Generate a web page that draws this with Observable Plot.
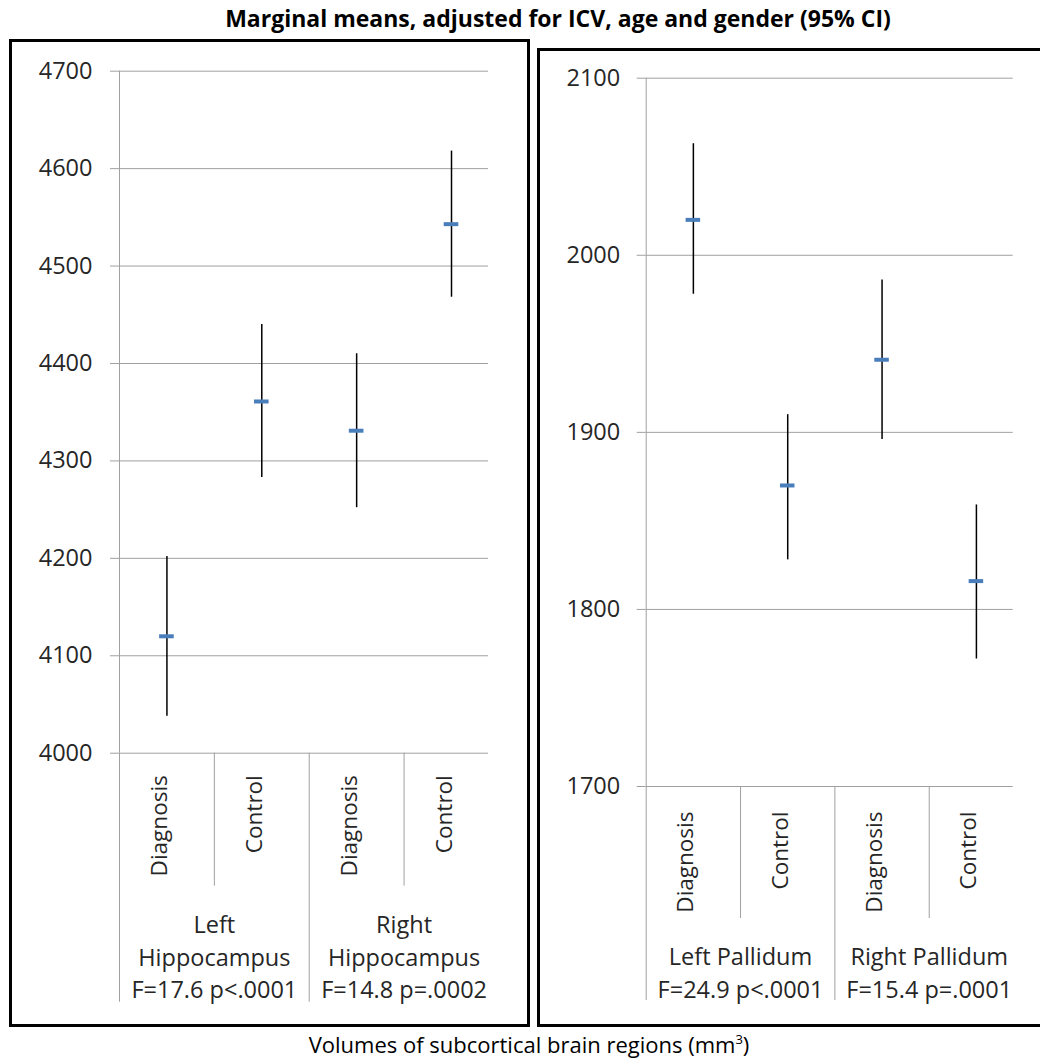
<!DOCTYPE html>
<html>
<head>
<meta charset="utf-8">
<script src="https://cdn.jsdelivr.net/npm/d3@7"></script>
<script src="https://cdn.jsdelivr.net/npm/@observablehq/plot@0.6"></script>
<style>
  body { margin: 0; background: #fff; font-family: "Open Sans", sans-serif; }
  #page { position: relative; width: 1040px; height: 1061px; overflow: hidden; background: #fff; }
  #title { position: absolute; top: 3px; left: 558px; transform: translateX(-50%); white-space: nowrap;
           font-weight: 700; font-size: 23px; line-height: 30px; color: #000; }
  #caption { position: absolute; top: 1030px; left: 529px; transform: translateX(-50%); white-space: nowrap;
             font-size: 22px; line-height: 28px; color: #000; }
  #caption sup { font-size: 13px; vertical-align: 9px; line-height: 0; }
  .box { position: absolute; border: 3px solid #000; box-sizing: border-box; }
  #boxL { left: 9px; top: 39px; width: 521px; height: 988px; }
  #boxR { left: 537px; top: 48px; width: 540px; height: 979px; }
  .panel { position: absolute; }
  #panelL { left: 12px; top: 42px; }
  #panelR { left: 540px; top: 51px; }
</style>
</head>
<body>
<div id="page">
  <div id="title"></div>
  <div class="box" id="boxL"></div>
  <div class="box" id="boxR"></div>
  <div class="panel" id="panelL"></div>
  <div class="panel" id="panelR"></div>
  <div id="caption"></div>
</div>
<script>
// ---- data ----
const titleText = "Marginal means, adjusted for ICV, age and gender (95% CI)";
const captionText = "Volumes of subcortical brain regions (mm";
const captionSup = "3";

const categories = ["Diagnosis", "Control", "Diagnosis", "Control"];

const hippoGroups = ["Left\nHippocampus\nF=17.6 p<.0001", "Right\nHippocampus\nF=14.8 p=.0002"];
const hippoMean = [4120, 4361, 4331, 4543];
const hippoLow  = [4038, 4283, 4252, 4468];
const hippoHigh = [4202, 4440, 4410, 4618];
const hippoTicks = [4000, 4100, 4200, 4300, 4400, 4500, 4600, 4700];

const pallGroups = ["Left Pallidum\nF=24.9 p<.0001", "Right Pallidum\nF=15.4 p=.0001"];
const pallMean = [2020, 1870, 1941, 1816];
const pallLow  = [1978, 1828, 1896, 1772];
const pallHigh = [2063, 1910, 1986, 1859];
const pallTicks = [1700, 1800, 1900, 2000, 2100];

// ---- text ----
document.getElementById("title").textContent = titleText;
const cap = document.getElementById("caption");
cap.appendChild(document.createTextNode(captionText));
const sup = document.createElement("sup"); sup.textContent = captionSup; cap.appendChild(sup);
cap.appendChild(document.createTextNode(")"));

const GRID = "#a0a0a0";
const TEXT = "#262626";
const FONT = "'Open Sans', sans-serif";

function panel({means, lows, highs, groups, ticks, width, height, margins, innerSep, groupSep, catPad, groupDy, tickPadding}) {
  const rows = categories.map((c, i) => ({cat: c, pos: i + 0.5, mean: means[i], lo: lows[i], hi: highs[i]}));
  const grows = groups.map((g, i) => ({label: g, pos: 2 * i + 1}));
  const half = 0.077;
  return Plot.plot({
    width, height,
    marginLeft: margins[0], marginRight: margins[1], marginTop: margins[2], marginBottom: margins[3],
    style: {background: "transparent", fontFamily: FONT, color: TEXT, overflow: "visible"},
    x: {domain: [0, 3.89]},
    y: {domain: [ticks[0], ticks[ticks.length - 1]]},
    marks: [
      Plot.gridY({ticks, stroke: GRID, strokeOpacity: 1, strokeWidth: 1}),
      Plot.axisY({ticks, tickSize: 9, tickPadding, stroke: GRID, fill: TEXT, fontSize: 23.5, label: null, tickFormat: d => String(d)}),
      Plot.ruleX([0], {stroke: GRID, strokeWidth: 1}),
      Plot.axisX({ticks: [1, 3], tickSize: innerSep, stroke: GRID, tickFormat: () => "", label: null}),
      Plot.axisX({ticks: [0, 2], tickSize: groupSep, stroke: GRID, tickFormat: () => "", label: null}),
      Plot.text(rows, {x: "pos", text: "cat", frameAnchor: "bottom", rotate: -90, textAnchor: "end", dy: catPad, fontSize: 22.5, fill: TEXT}),
      Plot.text(grows, {x: "pos", text: "label", frameAnchor: "bottom", lineAnchor: "bottom", lineHeight: 1.38, dy: groupDy, fontSize: 23.5, fill: TEXT}),
      Plot.ruleX(rows, {x: "pos", y1: "lo", y2: "hi", stroke: "#000", strokeWidth: 1.5}),
      Plot.ruleY(rows, {y: "mean", x1: d => d.pos - half, x2: d => d.pos + half, stroke: "#4a7ebb", strokeWidth: 4})
    ]
  });
}

document.getElementById("panelL").appendChild(panel({
  means: hippoMean, lows: hippoLow, highs: hippoHigh, groups: hippoGroups, ticks: hippoTicks,
  width: 514, height: 981, margins: [107, 38, 28.7, 270.3],
  innerSep: 133, groupSep: 249, catPad: 22, groupDy: 245, tickPadding: 18
}));
document.getElementById("panelR").appendChild(panel({
  means: pallMean, lows: pallLow, highs: pallHigh, groups: pallGroups, ticks: pallTicks,
  width: 500, height: 972, margins: [105.7, 27.3, 26.7, 237],
  innerSep: 132, groupSep: 214, catPad: 25, groupDy: 211, tickPadding: 17
}));
</script>
</body>
</html>
